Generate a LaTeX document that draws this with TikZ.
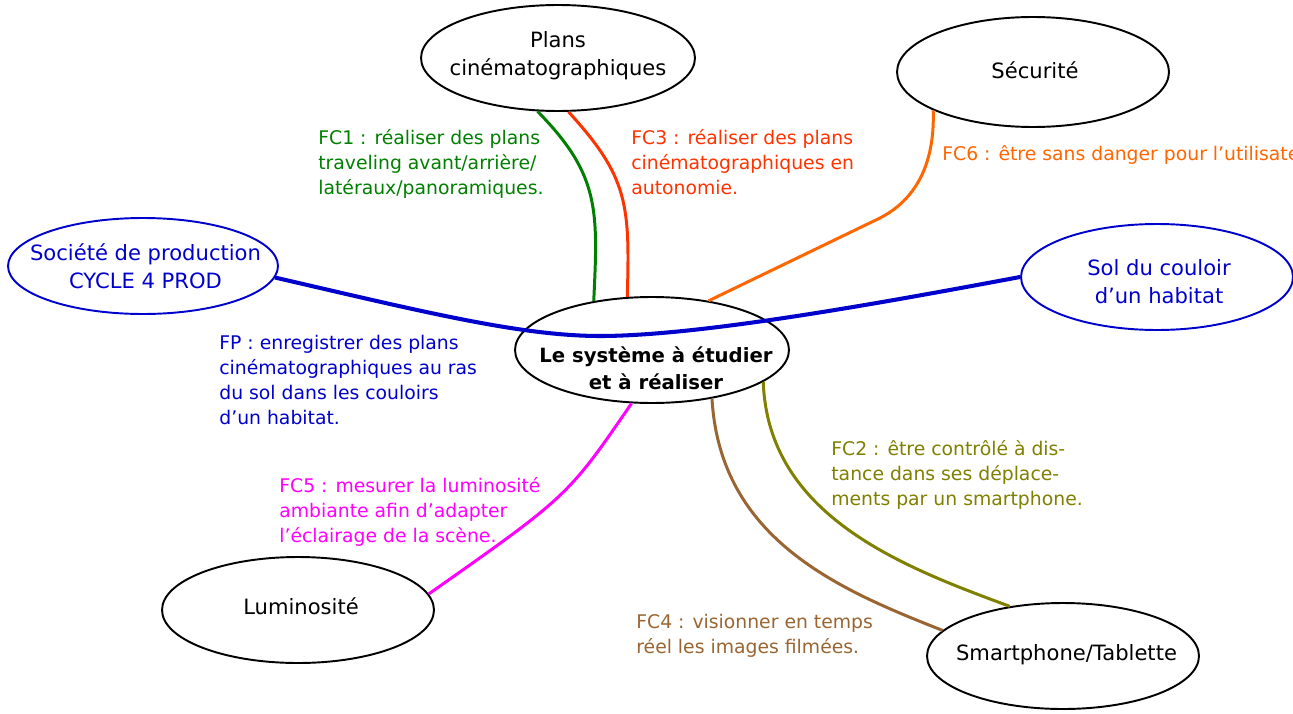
\documentclass[tikz,border=0pt]{standalone}
\usepackage{fontspec}
\setmainfont{DejaVu Sans}
\usetikzlibrary{shapes.geometric}
\definecolor{cgreen}{HTML}{008000}
\definecolor{cred}{HTML}{FF3300}
\definecolor{corange}{HTML}{FF6600}
\definecolor{cblue}{HTML}{0000CC}
\definecolor{colive}{HTML}{808000}
\definecolor{cbrown}{HTML}{996633}
\definecolor{cmag}{HTML}{FF00FF}
\begin{document}
\begin{tikzpicture}[x=0.02cm,y=-0.02cm,
  bubble/.style={ellipse,draw=black,line width=1.1pt,fill=white,inner sep=0pt,minimum width=5.44cm,minimum height=2.12cm},
  bubtext/.style={inner sep=0pt,align=center,anchor=base,font=\fontsize{12}{15.5}\selectfont},
  fctext/.style={inner sep=0pt,align=left,anchor=base west,font=\fontsize{10.7}{14.17}\selectfont},
  link/.style={line width=1.7pt},
  mainlink/.style={line width=2.3pt}
]
\useasboundingbox (0,0) rectangle (1293,713);
\clip (0,0) rectangle (1293,713);
\fill[white] (0,0) rectangle (1293,713);

% ellipses
\node[bubble,minimum width=5.48cm] (plans) at (558,58) {};
\node[bubble,minimum height=2.2cm] (secu) at (1033,72) {};
\node[bubble,draw=cblue,minimum width=5.4cm,minimum height=1.92cm] (soc) at (143,266) {};
\node[bubble,draw=cblue] (sol) at (1157,277) {};
\node[bubble,minimum width=5.48cm] (centre) at (652,350) {};
\node[bubble] (lum) at (298,610) {};
\node[bubble] (smart) at (1063,656) {};

% connectors
\draw[link,cgreen] (plans.-111.6) .. controls (600,175) and (598,210) .. (centre.140.5);
\draw[link,cred] (plans.-79.3) .. controls (628,177) and (630,204) .. (centre.115.7);
\draw[link,corange] (secu.201.6) .. controls (935,165) and (915,200) .. (880,218) -- (centre.41.4);
\draw[mainlink,cblue] (soc.-5.2) .. controls (420,311) and (520,336) .. (600,336) .. controls (700,336) and (881,303) .. (sol.180);
\draw[link,cmag] (lum.7.2) .. controls (568,496) and (568,496) .. (centre.-111);
\draw[link,cbrown] (centre.-39.6) .. controls (720,540) and (840,590) .. (smart.168.6);
\draw[link,colive] (centre.-16.6) .. controls (768,515) and (900,566) .. (smart.137.3);

% ellipse texts (anchor base = baseline of the last line)
\node[bubtext] (plansT) at (558,75) {Plans\\cinématographiques};
\node[bubtext] (secuT) at (1035,78) {Sécurité};
\node[bubtext,text=cblue] (socT) at (145.5,288) {Société de production\\CYCLE 4 PROD};
\node[bubtext,text=cblue] (solT) at (1159,303) {Sol du couloir\\d’un habitat};
\node[bubtext,font=\bfseries\fontsize{11.2}{15.3}\selectfont] (centreT) at (656,389) {Le système à étudier\\et à réaliser};
\node[bubtext] (lumT) at (301,614) {Luminosité};
\node[bubtext] (smartT) at (1066.5,660) {Smartphone/Tablette};

% function texts
\node[fctext,text=cgreen] (fc1) at (318,194) {FC1 : réaliser des plans\\traveling avant/arrière/\\latéraux/panoramiques.};
\node[fctext,text=cred] (fc3) at (631,194) {FC3 : réaliser des plans\\cinématographiques en\\autonomie.};
\node[fctext,text=corange] (fc6) at (942,160) {FC6 : être sans danger pour l’utilisateur.};
\node[fctext,text=cblue] (fp) at (219,424) {FP : enregistrer des plans\\cinématographiques au ras\\du sol dans les couloirs\\d’un habitat.};
\node[fctext,text=colive] (fc2) at (831,505) {FC2 : être contrôlé à dis-\\tance dans ses déplace-\\ments par un smartphone.};
\node[fctext,text=cbrown] (fc4) at (636,653) {FC4 : visionner en temps\\réel les images filmées.};
\node[fctext,text=cmag] (fc5) at (279,542) {FC5 : mesurer la luminosité\\ambiante afin d’adapter\\l’éclairage de la scène.};
\end{tikzpicture}
\end{document}
